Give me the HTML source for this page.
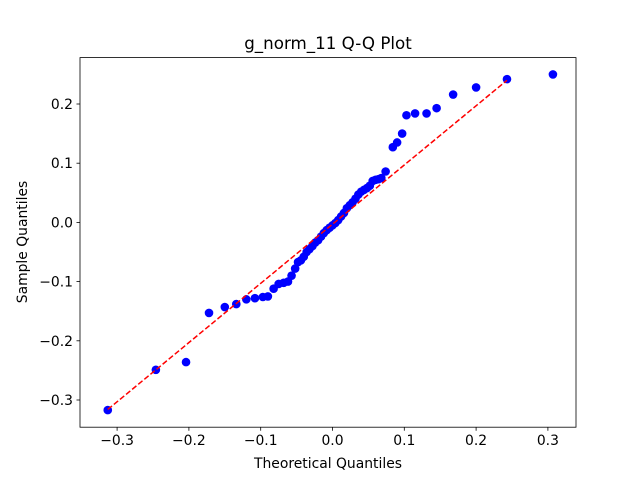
<!DOCTYPE html>
<html><head><meta charset="utf-8"><style>body{margin:0;background:#fff}svg{display:block;font-family:"DejaVu Sans","Liberation Sans",sans-serif}</style></head>
<body>
<svg id="c" width="640" height="480"></svg>
<script>
const xs=[-0.313,-0.246,-0.204,-0.172,-0.150,-0.134,-0.120,-0.108,-0.097,-0.090,-0.082,-0.075,-0.068,-0.062,-0.057,-0.052,-0.048,-0.044,-0.040,-0.036,-0.032,-0.028,-0.024,-0.020,-0.016,-0.012,-0.008,-0.004,0.000,0.004,0.008,0.012,0.016,0.020,0.024,0.028,0.032,0.036,0.040,0.044,0.048,0.052,0.056,0.060,0.064,0.068,0.074,0.084,0.090,0.097,0.103,0.115,0.131,0.145,0.168,0.200,0.243,0.307];
const ys=[-0.317,-0.249,-0.236,-0.153,-0.143,-0.138,-0.130,-0.128,-0.126,-0.125,-0.112,-0.104,-0.102,-0.100,-0.090,-0.078,-0.067,-0.064,-0.058,-0.050,-0.045,-0.040,-0.034,-0.030,-0.024,-0.018,-0.013,-0.009,-0.005,-0.001,0.004,0.010,0.016,0.024,0.029,0.034,0.040,0.047,0.052,0.055,0.058,0.062,0.070,0.072,0.073,0.075,0.086,0.127,0.135,0.150,0.181,0.184,0.184,0.193,0.216,0.228,0.242,0.250];
const xTicks=[-0.3,-0.2,-0.1,0.0,0.1,0.2,0.3];
const yTicks=[-0.3,-0.2,-0.1,0.0,0.1,0.2];
const lineEnds=[-0.313,0.243];
const lineSlope=1.0, lineIntercept=-0.003;
const L=80,R=576,T=57.6,B=427.2;
const sx=v=>332.5+v*718, sy=v=>222.4-v*592;
const svg=document.getElementById('c');const NS='http://www.w3.org/2000/svg';
function mk(t,a,p){const e=document.createElementNS(NS,t);for(const k in a)e.setAttribute(k,a[k]);(p||svg).appendChild(e);return e;}
const pts=mk('g',{});


xs.forEach((x,i)=>{const c=mk('circle',{cx:sx(x),cy:sy(ys[i]),r:4.3,fill:'#0000ff'},pts);

});
const ln=mk('line',{x1:sx(lineEnds[0]),y1:sy(lineSlope*lineEnds[0]+lineIntercept),x2:sx(lineEnds[1]),y2:sy(lineSlope*lineEnds[1]+lineIntercept),stroke:'#ff0000','stroke-width':1.5,'stroke-dasharray':'5.5,2.4'});


const fr=mk('rect',{x:L,y:T,width:R-L,height:B-T,fill:'none',stroke:'#000','stroke-width':0.8});


xTicks.forEach(v=>{const x=sx(v);mk('line',{x1:x,y1:B,x2:x,y2:B+3.5,stroke:'#000','stroke-width':0.8});
const t=mk('text',{x:x,y:B+18,'font-size':13.9,'text-anchor':'middle'});t.textContent=(v<0?'\u2212':'')+Math.abs(v).toFixed(1);

});
yTicks.forEach(v=>{const y=sy(v);mk('line',{x1:L-3.5,y1:y,x2:L,y2:y,stroke:'#000','stroke-width':0.8});
const t=mk('text',{x:L-7,y:y+5,'font-size':13.9,'text-anchor':'end'});t.textContent=(v<0?'\u2212':'')+Math.abs(v).toFixed(1);

});
const tt=mk('text',{x:328,y:49,'font-size':16.7,'text-anchor':'middle'});tt.textContent='g_norm_11 Q-Q Plot';


const xt=mk('text',{x:328,y:468,'font-size':13.9,'text-anchor':'middle'});xt.textContent='Theoretical Quantiles';


const yt=mk('text',{x:27,y:242,'font-size':13.9,'text-anchor':'middle',transform:'rotate(-90 27 242)'});yt.textContent='Sample Quantiles';


</script>
</body></html>
